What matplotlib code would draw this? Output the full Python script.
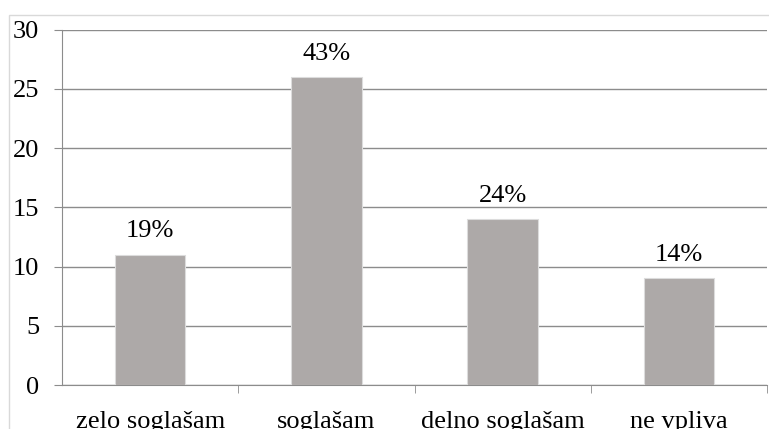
import matplotlib.pyplot as plt
from matplotlib.patches import Rectangle

kategorije = ['zelo soglašam', 'soglašam', 'delno soglašam', 'ne vpliva']
odgovori = [11, 26, 14, 9]
odstotki = ['19%', '43%', '24%', '14%']

plt.rcParams['font.family'] = ['Liberation Serif', 'DejaVu Serif']

fig = plt.figure(figsize=(7.69, 4.29), dpi=100)
W, H = 769, 429
ax = fig.add_axes([62 / W, 1 - 385 / H, (767 - 62) / W, (385 - 29.6) / H])

# svetlo siv okvir okoli grafikona
fig.patches.append(Rectangle((9 / W, -0.1), 1.2, 1 - 15 / H + 0.1,
                             transform=fig.transFigure, fill=False,
                             edgecolor='#d9d9d9', linewidth=1))

x = range(len(kategorije))
ax.bar(x, odgovori, width=0.4, color='#ADA9A8', edgecolor='#dcdcdc',
       linewidth=0.8, zorder=3)

for xi, v, t in zip(x, odgovori, odstotki):
    ax.text(xi, v + 1.05, t, ha='center', va='bottom', fontsize=19)

ax.set_xlim(-0.5, len(kategorije) - 0.5)
ax.set_ylim(0, 30)
ax.set_yticks(range(0, 31, 5))
ax.yaxis.grid(True, color='#8c8c8c', linewidth=1)
ax.set_axisbelow(True)

for s in ['top', 'right']:
    ax.spines[s].set_visible(False)
ax.spines['left'].set_color('#8c8c8c')
ax.spines['bottom'].set_color('#8c8c8c')

ax.set_xticks(x)
ax.set_xticklabels(kategorije, fontsize=19)
ax.tick_params(axis='x', length=0, pad=19)
ax.set_xticks([i + 0.5 for i in x], minor=True)
ax.tick_params(axis='x', which='minor', length=5.8, color='#8c8c8c')
ax.tick_params(axis='y', length=5.8, color='#8c8c8c', labelsize=19, pad=10.5)

plt.savefig('out.png', dpi=100)
